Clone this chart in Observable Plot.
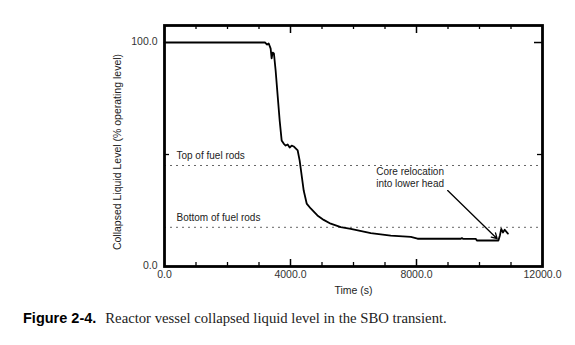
<!DOCTYPE html>
<html>
<head>
<meta charset="utf-8">
<script src="https://cdn.jsdelivr.net/npm/d3@7"></script>
<script src="https://cdn.jsdelivr.net/npm/@observablehq/plot@0.6"></script>
<style>
  html, body { margin: 0; padding: 0; background: #fff; }
  #wrap { position: relative; width: 575px; height: 345px; }
  #caption { position: absolute; left: 23px; top: 309px; white-space: nowrap; }
  #caption .fig { font-family: "Liberation Sans", Arial, sans-serif; font-weight: bold; font-size: 14.5px; }
  #caption .txt { font-family: "Liberation Serif", "Times New Roman", serif; font-size: 14.7px; margin-left: 9px; color: #222; }
</style>
</head>
<body>
<div id="wrap">
  <div id="chart"></div>
  <div id="caption"><span class="fig">Figure 2-4.</span><span class="txt">Reactor vessel collapsed liquid level in the SBO transient.</span></div>
</div>
<script>
// Time (s)
const timeS = [0, 3190, 3258, 3306, 3370, 3401, 3433, 3474, 3528, 3592, 3656, 3719, 3783, 3846, 3910, 3974, 4037, 4101, 4164, 4228, 4291, 4355, 4419, 4514, 4641, 4854, 5054, 5277, 5595, 5913, 6548, 7184, 7820, 8033, 9091, 9409, 9441, 9473, 9886, 9917, 10600, 10650, 10690, 10744, 10800, 10903];
// Collapsed liquid level (% operating level)
const levelPct = [100, 100, 99.1, 99.6, 97.3, 92.9, 95.5, 95.1, 87.5, 76.3, 65.2, 56.3, 54.9, 54.0, 54.5, 53.1, 54.0, 53.6, 52.7, 51.8, 47.3, 40.6, 33.9, 28.1, 25.9, 22.8, 20.8, 19.1, 17.6, 16.8, 14.9, 13.8, 13.2, 12.4, 12.4, 12.4, 12.7, 12.4, 12.3, 11.6, 11.6, 14.0, 16.8, 15.2, 16.4, 14.7];

const refLevels = [45.1, 17.5];
const refLabels = ["Top of fuel rods", "Bottom of fuel rods"];
const xTickLabels = [0, 4000, 8000, 12000];
const xMinorTicks = [1000, 2000, 3000, 5000, 6000, 7000, 9000, 10000, 11000];
const xMajorTicks = [4000, 8000];
const yTickLabels = [0, 100];
const yMinorTicks = [50];
const yMajorTicks = [100];
const noteLines = "Core relocation\ninto lower head";
const noteAt = [6720, 39.9];
const arrowFrom = [8990, 33.9];
const arrowTo = [10560, 12.4];

const data = timeS.map((t, i) => ({t, v: levelPct[i]}));

const W = 575, H = 305, mL = 164, mR = 33, mT = 25, mB = 39;
const fw = W - mL - mR, fh = H - mT - mB;
const font = "Liberation Sans, Arial, sans-serif";

const chart = Plot.plot({
  width: W, height: H,
  marginLeft: mL, marginRight: mR, marginTop: mT, marginBottom: mB,
  style: {fontFamily: font, fontSize: "10px", background: "#fff", overflow: "visible"},
  x: {domain: [0, 12000], axis: null},
  y: {domain: [0, 107.6], axis: null},
  marks: [
    Plot.ruleY(refLevels, {stroke: "#666", strokeWidth: 1, strokeDasharray: "2,4"}),
    Plot.text(refLabels, {x: 380, y: (d, i) => refLevels[i], text: d => d, textAnchor: "start", dy: -10, fill: "#222", fontSize: 10}),
    Plot.line(data, {x: "t", y: "v", stroke: "#000", strokeWidth: 1.8}),
    Plot.text([noteLines], {x: noteAt[0], y: noteAt[1], text: d => d, textAnchor: "start", lineAnchor: "middle", lineHeight: 1.15, fill: "#222", fontSize: 10}),
    Plot.arrow([0], {x1: arrowFrom[0], y1: arrowFrom[1], x2: arrowTo[0], y2: arrowTo[1], stroke: "#000", strokeWidth: 1.3, headLength: 7}),
    // inward ticks
    Plot.tickX(xMinorTicks, {x: d => d, insetTop: fh - 4, stroke: "#000", strokeWidth: 1.3}),
    Plot.tickX(xMajorTicks, {x: d => d, insetTop: fh - 7, stroke: "#000", strokeWidth: 1.5}),
    Plot.tickX(xMinorTicks, {x: d => d, insetBottom: fh - 4, stroke: "#000", strokeWidth: 1.3}),
    Plot.tickX(xMajorTicks, {x: d => d, insetBottom: fh - 8, stroke: "#000", strokeWidth: 1.5}),
    Plot.tickY(yMinorTicks, {y: d => d, insetRight: fw - 5, stroke: "#000", strokeWidth: 1.3}),
    Plot.tickY(yMinorTicks, {y: d => d, insetLeft: fw - 5, stroke: "#000", strokeWidth: 1.3}),
    Plot.tickY(yMajorTicks, {y: d => d, insetLeft: fw - 8, stroke: "#000", strokeWidth: 1.5}),
    Plot.frame({stroke: "#000", strokeWidth: 2.8}),
    // tick labels
    Plot.text(xTickLabels, {x: d => d, frameAnchor: "bottom", text: d => d.toFixed(1), dy: 8, lineAnchor: "middle", fill: "#333", fontSize: 10.5}),
    Plot.text(yTickLabels, {y: d => d, frameAnchor: "left", text: d => d.toFixed(1), dx: -7, dy: -1, textAnchor: "end", fill: "#333", fontSize: 10.5}),
    // axis titles
    Plot.text(["Time (s)"], {x: 6000, frameAnchor: "bottom", text: d => d, dy: 24, lineAnchor: "middle", fill: "#222", fontSize: 10.5}),
    Plot.text(["Collapsed Liquid Level (% operating level)"], {frameAnchor: "left", text: d => d, rotate: -90, dx: -47, dy: 6, textAnchor: "middle", lineAnchor: "middle", fill: "#222", fontSize: 10.5})
  ]
});
document.getElementById("chart").appendChild(chart);
</script>
</body>
</html>
